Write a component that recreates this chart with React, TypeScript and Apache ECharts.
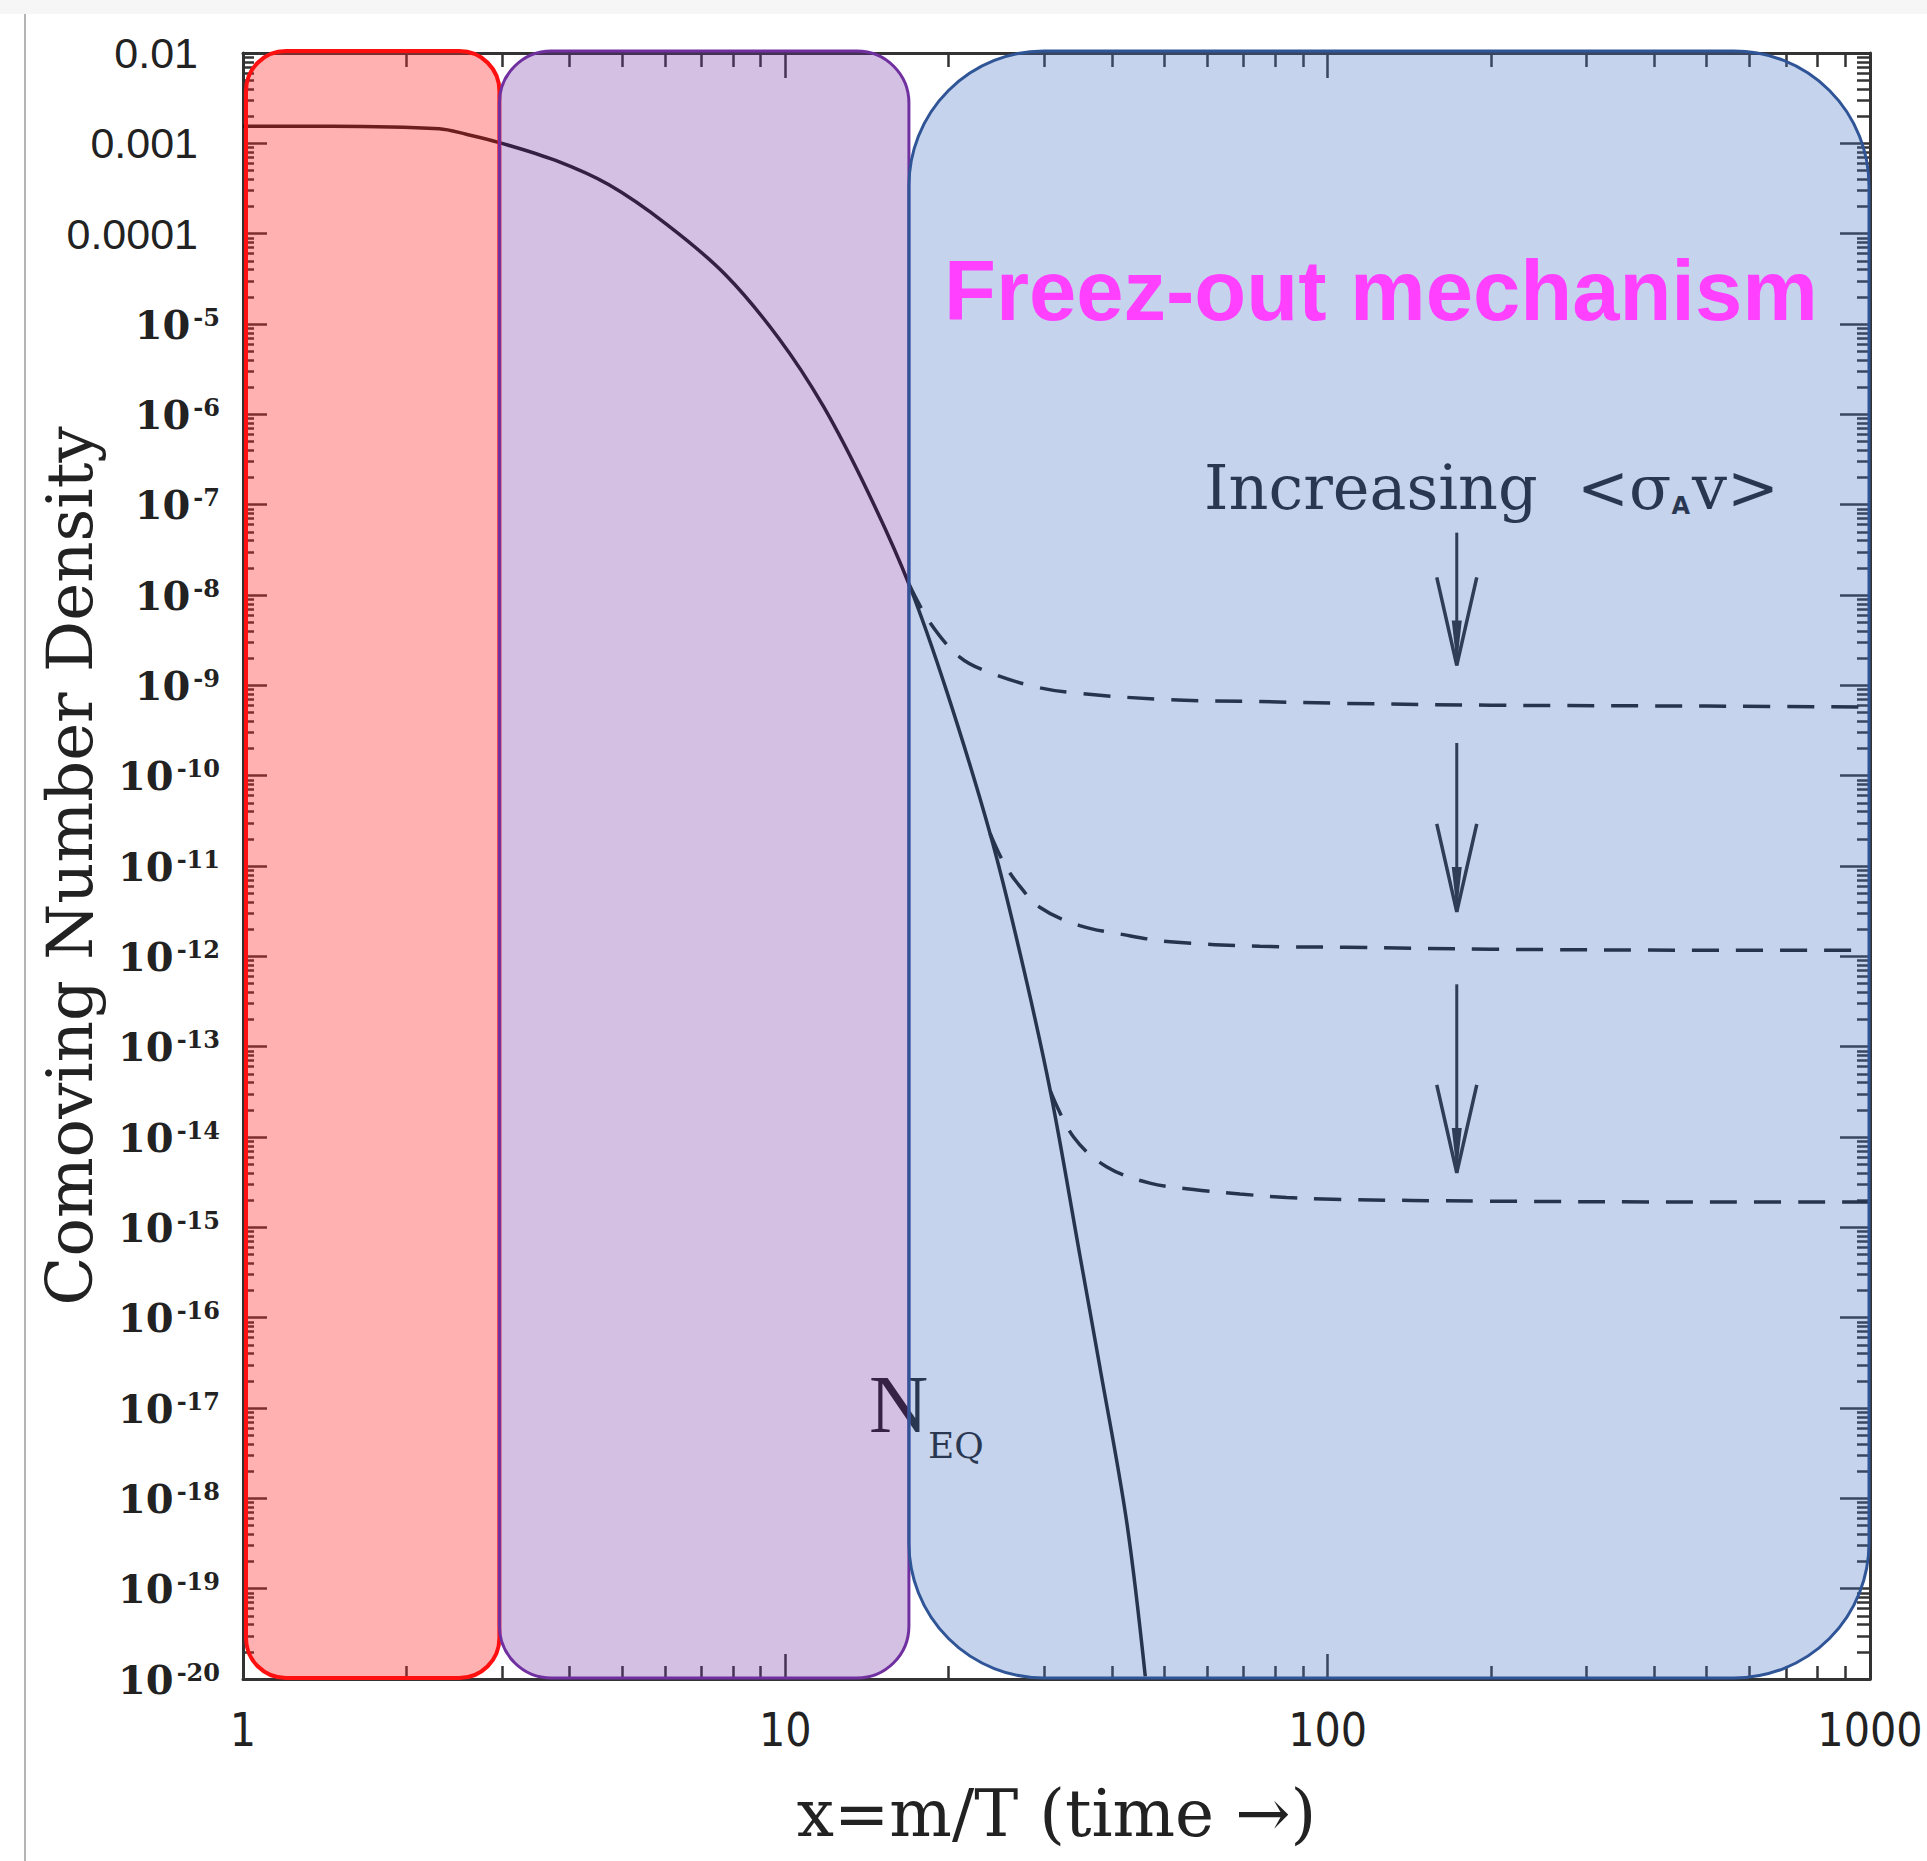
import React, { useEffect, useRef } from "react";
import * as echarts from "echarts";

// ---------- data ----------
const xTickValues = [1, 10, 100, 1000];
const xTickLabels = ["1", "10", "100", "1000"];
const yTickValues = [1e-2, 1e-3, 1e-4, 1e-5, 1e-6, 1e-7, 1e-8, 1e-9, 1e-10, 1e-11, 1e-12, 1e-13, 1e-14, 1e-15, 1e-16, 1e-17, 1e-18, 1e-19, 1e-20];
const yTickLabels = ["0.01", "0.001", "0.0001", "10-5", "10-6", "10-7", "10-8", "10-9", "10-10", "10-11", "10-12", "10-13", "10-14", "10-15", "10-16", "10-17", "10-18", "10-19", "10-20"];
const minorMultipliers = [2, 3, 4, 5, 6, 7, 8, 9];
const xDecades = [1, 10, 100];
const yDecades = [1e-20, 1e-19, 1e-18, 1e-17, 1e-16, 1e-15, 1e-14, 1e-13, 1e-12, 1e-11, 1e-10, 1e-9, 1e-8, 1e-7, 1e-6, 1e-5, 1e-4, 1e-3];

// equilibrium curve (solid)
const eqX = [1, 1.46, 2.3, 2.58, 2.97, 3.77, 4.73, 6.05, 7.74, 9.73, 11.75, 14.2, 16.9, 19.85, 23.85, 27.1, 30.8, 34.9, 38.0, 42.6, 46.1];
const eqY = [1.55e-3, 1.55e-3, 1.45e-3, 1.26e-3, 1.02e-3, 6.46e-4, 3.47e-4, 1.26e-4, 3.55e-5, 6.92e-6, 1.23e-6, 1.38e-7, 1.32e-8, 8.51e-10, 2.29e-11, 1.07e-12, 3.24e-14, 5.01e-16, 2.88e-17, 5.5e-19, 1.07e-20];

// freeze-out curves (dashed)
const fo1X = [16.9, 18.5, 21.0, 23.85, 29.1, 34.9, 51.2, 75, 108, 200, 500, 1000];
const fo1Y = [1.32e-8, 4.9e-9, 2.04e-9, 1.38e-9, 9.55e-10, 8.13e-10, 6.92e-10, 6.61e-10, 6.31e-10, 6.03e-10, 5.89e-10, 5.75e-10];
const fo2X = [23.85, 25.2, 26.7, 29.5, 34.9, 42.0, 51.2, 75, 108, 200, 500, 1000];
const fo2Y = [2.29e-11, 1.12e-11, 6.61e-12, 3.47e-12, 2.19e-12, 1.74e-12, 1.45e-12, 1.29e-12, 1.26e-12, 1.2e-12, 1.17e-12, 1.17e-12];
const fo3X = [30.8, 34.0, 39.1, 47.0, 56.6, 68.9, 84, 102, 200, 500, 1000];
const fo3Y = [3.24e-14, 1.0e-14, 4.68e-15, 3.09e-15, 2.63e-15, 2.34e-15, 2.14e-15, 2.04e-15, 1.95e-15, 1.91e-15, 1.91e-15];

// shaded regions (x ranges)
const regionBounds = [
  [1, 2.97],
  [2.97, 16.9],
  [16.9, 1000],
];

// arrows "Increasing <σv>"
const arrowX = 173;
const arrowTops = [4.9e-8, 2.3e-10, 4.9e-13];
const arrowTips = [1.66e-9, 3.1e-12, 4.0e-15];

const titleText = "Freez-out mechanism";
const xAxisTitle = "x=m/T (time \u2192)";
const yAxisTitle = "Comoving Number Density";

export default function App() {
  const ref = useRef<HTMLDivElement>(null);

  useEffect(() => {
    const chart = echarts.init(ref.current!, null, { renderer: "svg" });
    const ink = "#262626";
    const axisInk = "#333333";

    const xMinor: number[] = [];
    xDecades.forEach((d) => minorMultipliers.forEach((m) => xMinor.push(m * d)));
    const yMinor: number[] = [];
    yDecades.forEach((d) => minorMultipliers.forEach((m) => yMinor.push(m * d)));

    const yLabelFor = (v: number) => {
      const e = Math.round(Math.log10(v));
      const idx = yTickValues.findIndex((t) => Math.round(Math.log10(t)) === e);
      const lab = idx >= 0 ? yTickLabels[idx] : "";
      if (lab.startsWith("10") && lab.length > 2 && lab[2] === "-") {
        return `{n|10}{e|${lab.slice(2)}}`;
      }
      return `{d|${lab}}`;
    };
    const xLabelFor = (v: number) => {
      const idx = xTickValues.findIndex((t) => Math.abs(Math.log10(t) - Math.log10(v)) < 1e-6);
      return idx >= 0 ? xTickLabels[idx] : "";
    };

    const baseX = {
      type: "log" as const,
      logBase: 10,
      min: 1,
      max: 1000,
      gridIndex: 0,
      splitLine: { show: false },
    };
    const baseY = {
      type: "log" as const,
      logBase: 10,
      min: 1e-20,
      max: 1e-2,
      gridIndex: 0,
      splitLine: { show: false },
    };
    const lineStyleAxis = { color: axisInk, width: 3 };
    const tickStyle = { color: axisInk, width: 2.5 };

    const xAxes = [
      {
        ...baseX,
        position: "bottom",
        axisLine: { show: true, lineStyle: lineStyleAxis },
        axisTick: { show: true, inside: true, length: 25, lineStyle: tickStyle, customValues: xTickValues },
        axisLabel: {
          show: true,
          customValues: xTickValues,
          formatter: (v: number) => xLabelFor(v),
          margin: 28,
          color: "#222",
          fontSize: 46,
          fontFamily: '"Liberation Sans Narrow", "DejaVu Sans Condensed", "Liberation Sans", sans-serif',
        },
        name: xAxisTitle,
        nameLocation: "middle",
        nameGap: 134,
        nameTextStyle: { fontFamily: "DejaVu Serif", fontSize: 66, color: "#222", verticalAlign: "middle" },
      },
      {
        ...baseX,
        position: "bottom",
        axisLine: { show: false },
        axisTick: { show: true, inside: true, length: 13, lineStyle: tickStyle, customValues: xMinor },
        axisLabel: { show: false },
      },
      {
        ...baseX,
        position: "top",
        axisLine: { show: true, lineStyle: lineStyleAxis },
        axisTick: { show: true, inside: true, length: 25, lineStyle: tickStyle, customValues: xTickValues },
        axisLabel: { show: false },
      },
      {
        ...baseX,
        position: "top",
        axisLine: { show: false },
        axisTick: { show: true, inside: true, length: 14, lineStyle: tickStyle, customValues: xMinor },
        axisLabel: { show: false },
      },
    ];

    const yAxes = [
      {
        ...baseY,
        position: "left",
        axisLine: { show: true, lineStyle: lineStyleAxis },
        axisTick: { show: true, inside: true, length: 24, lineStyle: tickStyle, customValues: yTickValues },
        axisLabel: {
          show: true,
          customValues: yTickValues,
          formatter: (v: number) => yLabelFor(v),
          margin: 23,
          color: "#222",
          rich: {
            d: { fontFamily: '"Liberation Sans", Arial, sans-serif', fontSize: 43, color: "#222", padding: [0, 22, 0, 0] },
            n: { fontFamily: "DejaVu Serif", fontSize: 40, fontWeight: "bold", color: "#222" },
            e: { fontFamily: "DejaVu Serif", fontSize: 24, fontWeight: "bold", color: "#222", verticalAlign: "top", padding: [1, 0, 0, 3] },
          },
        },
        name: yAxisTitle,
        nameLocation: "middle",
        nameRotate: 90,
        nameGap: 173,
        nameMoveOverlap: false,
        nameTextStyle: { fontFamily: "DejaVu Serif", fontSize: 64, color: "#222", verticalAlign: "middle" },
      },
      {
        ...baseY,
        position: "left",
        axisLine: { show: false },
        axisTick: { show: true, inside: true, length: 11, lineStyle: tickStyle, customValues: yMinor },
        axisLabel: { show: false },
      },
      {
        ...baseY,
        position: "right",
        axisLine: { show: true, lineStyle: lineStyleAxis },
        axisTick: { show: true, inside: true, length: 30, lineStyle: tickStyle, customValues: yTickValues },
        axisLabel: { show: false },
      },
      {
        ...baseY,
        position: "right",
        axisLine: { show: false },
        axisTick: { show: true, inside: true, length: 13, lineStyle: tickStyle, customValues: yMinor },
        axisLabel: { show: false },
      },
    ];

    const pair = (xs: number[], ys: number[]) => xs.map((x, i) => [x, ys[i]]);
    const dashed = (name: string, xs: number[], ys: number[]) => ({
      name,
      type: "line",
      xAxisIndex: 0,
      yAxisIndex: 0,
      data: pair(xs, ys),
      showSymbol: false,
      smooth: 0.35,
      lineStyle: { color: "#1a1a1a", width: 3.5, type: [27, 17] },
      z: 3,
    });

    chart.setOption({
      animation: false,
      backgroundColor: "#ffffff",
      grid: { left: 243, right: 57, top: 53, bottom: 182, containLabel: false, outerBoundsMode: "none" },
      xAxis: xAxes,
      yAxis: yAxes,
      series: [
        {
          name: "N_EQ",
          type: "line",
          xAxisIndex: 0,
          yAxisIndex: 0,
          data: pair(eqX, eqY),
          showSymbol: false,
          smooth: 0.35,
          lineStyle: { color: "#1a1a1a", width: 3.5 },
          z: 3,
        },
        dashed("freeze-out 1", fo1X, fo1Y),
        dashed("freeze-out 2", fo2X, fo2Y),
        dashed("freeze-out 3", fo3X, fo3Y),
      ],
    });

    const toPx = (x: number, y: number) =>
      chart.convertToPixel({ xAxisIndex: 0, yAxisIndex: 0 }, [x, y]) as number[];

    const regionStyles = [
      { fill: "rgba(255,40,40,0.36)", stroke: "#ff1010", lineWidth: 4, r: 40, inset: 3 },
      { fill: "rgba(112,48,160,0.30)", stroke: "#7030a0", lineWidth: 3, r: 52, inset: 0 },
      { fill: "rgba(68,114,196,0.31)", stroke: "#2f5597", lineWidth: 3, r: 135, inset: 0 },
    ];

    const graphics: any[] = [];
    // screenshot frame artefacts
    graphics.push({ type: "rect", shape: { x: 0, y: 0, width: 1927, height: 14 }, style: { fill: "#f6f6f6" }, z: 0, silent: true });
    graphics.push({ type: "line", shape: { x1: 25, y1: 14, x2: 25, y2: 1861 }, style: { stroke: "#b4b4b4", lineWidth: 2 }, z: 0, silent: true });

    regionBounds.forEach((b, i) => {
      const s = regionStyles[i];
      const p0 = toPx(b[0], 1e-2);
      const p1 = toPx(b[1], 1e-20);
      const left = p0[0] + s.inset;
      const right = i === 2 ? p1[0] - 1 : p1[0];
      graphics.push({
        type: "rect",
        shape: { x: left, y: p0[1] - 2, width: right - left, height: p1[1] - p0[1] + 1, r: s.r },
        style: { fill: s.fill, stroke: s.stroke, lineWidth: s.lineWidth },
        z: 10,
        silent: true,
      });
    });

    // arrows
    arrowTops.forEach((t, i) => {
      const top = toPx(arrowX, t);
      const tip = toPx(arrowX, arrowTips[i]);
      const x = top[0];
      graphics.push({ type: "line", shape: { x1: x, y1: top[1], x2: x, y2: tip[1] }, style: { stroke: ink, lineWidth: 3 }, z: 5 });
      graphics.push({ type: "polyline", shape: { points: [[x - 20, tip[1] - 88], [x, tip[1]], [x + 20, tip[1] - 88]] }, style: { stroke: ink, lineWidth: 3.5, fill: null }, z: 5 });
      graphics.push({ type: "polygon", shape: { points: [[x - 5, tip[1] - 45], [x, tip[1]], [x + 5, tip[1] - 45]] }, style: { fill: ink }, z: 5 });
    });

    // annotation texts
    graphics.push({
      type: "text",
      x: 1204,
      y: 487,
      z: 5,
      style: {
        text: "{a|Increasing  <\u03c3}{b|A}{a|v>}",
        verticalAlign: "middle",
        rich: {
          a: { fontFamily: "DejaVu Serif", fontSize: 62, fill: "#1e1e1e", verticalAlign: "middle" },
          b: { fontFamily: "DejaVu Sans", fontSize: 24, fontWeight: "bold", fill: "#1e1e1e", verticalAlign: "bottom", padding: [0, 2, 0, 0] },
        },
      },
    });
    graphics.push({
      type: "text",
      x: 869,
      y: 1404,
      z: 5,
      style: { text: "N", fontFamily: '"Liberation Serif", serif', fontSize: 82, fill: "#1e1e1e", verticalAlign: "middle" },
    });
    graphics.push({
      type: "text",
      x: 928,
      y: 1445,
      z: 5,
      style: { text: "EQ", fontFamily: "DejaVu Serif", fontSize: 36, fill: "#1e1e1e", verticalAlign: "middle" },
    });
    graphics.push({
      type: "text",
      x: 944,
      y: 290,
      z: 20,
      style: {
        text: titleText,
        fontFamily: '"Liberation Sans", Arial, sans-serif',
        fontSize: 85,
        fontWeight: "bold",
        fill: "#ff40ff",
        verticalAlign: "middle",
      },
    });

    chart.setOption({ graphic: graphics });

    return () => chart.dispose();
  }, []);

  return (
    <div
      ref={ref}
      style={{ position: "absolute", left: 0, top: 0, width: 1927, height: 1861 }}
    />
  );
}
